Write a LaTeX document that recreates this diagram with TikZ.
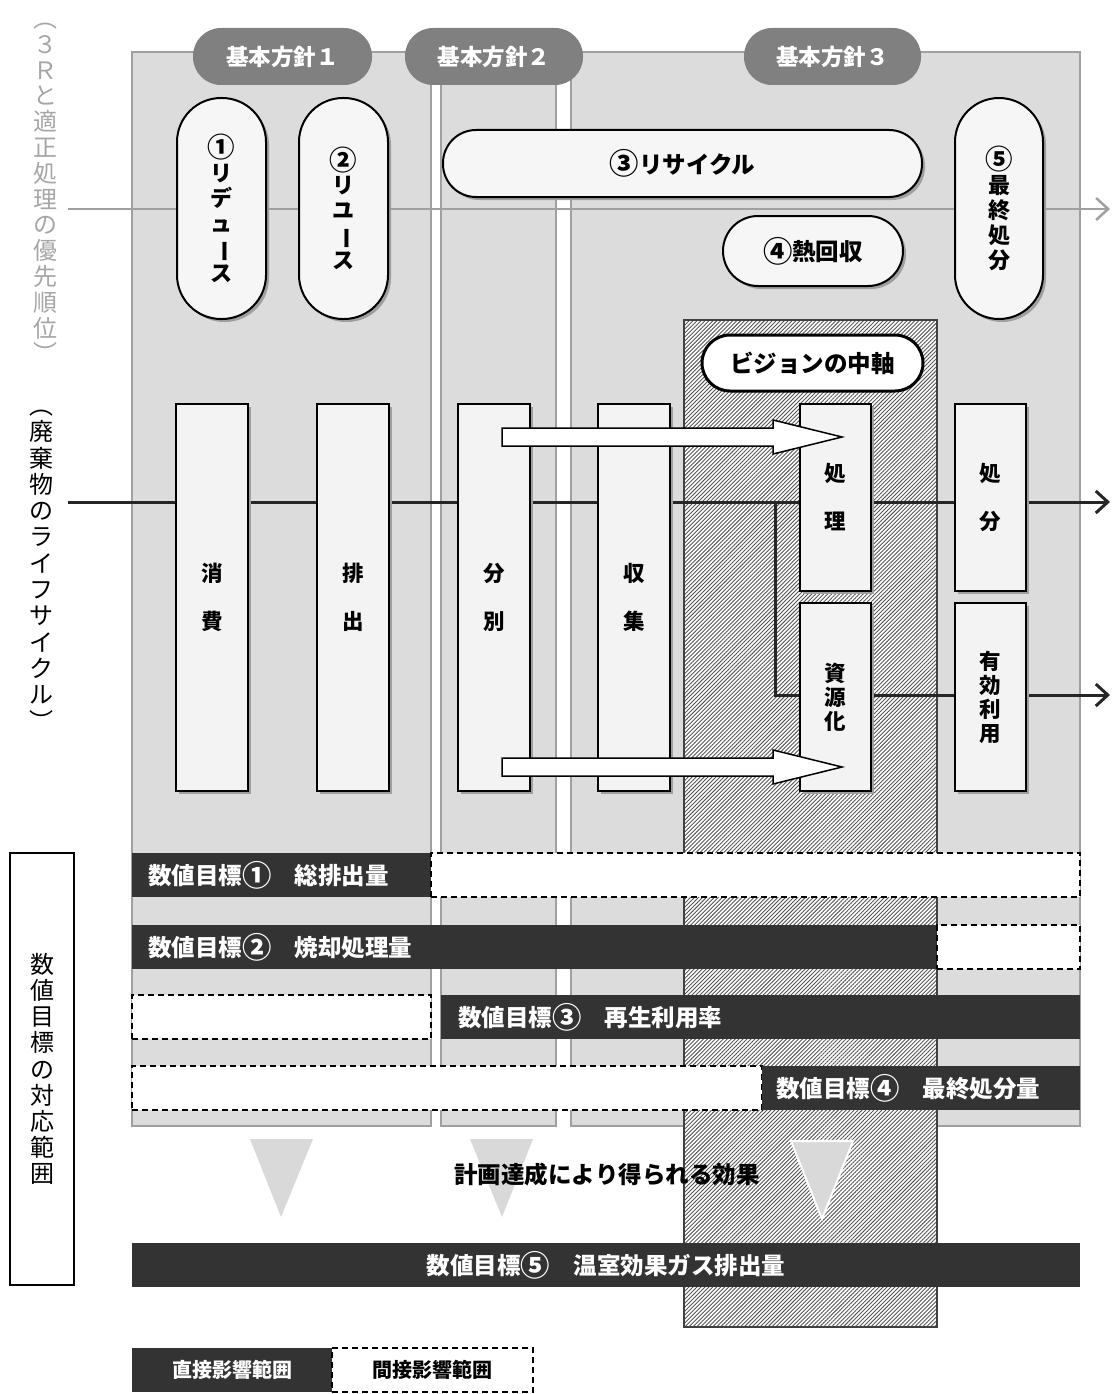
\documentclass[tikz,border=0pt]{standalone}
\usepackage{fontspec}
\usepackage{graphicx}
\setmainfont{Noto Sans CJK JP}
\usetikzlibrary{arrows.meta,patterns.meta,shadows,calc}

\definecolor{panelgray}{HTML}{DCDCDC}
\definecolor{panelline}{HTML}{A0A0A0}
\definecolor{pillgray}{HTML}{808080}
\definecolor{boxfill}{HTML}{F3F3F3}
\definecolor{capfill}{HTML}{F6F6F6}
\definecolor{barfill}{HTML}{333333}
\definecolor{trigray}{HTML}{D9D9D9}
\definecolor{labelgray}{HTML}{A6A6A6}
\definecolor{hatchline}{HTML}{555555}
\definecolor{hatchborder}{HTML}{404040}

% rectangle node from corners: [style]{name}{x1}{y1}{x2}{y2}{text}
\newcommand\rnode[7][]{%
  \node[#1, minimum width={(#5)-(#3)}, minimum height={(#6)-(#4)}]
    (#2) at ({((#3)+(#5))/2},{((#4)+(#6))/2}) {#7};}
\newcommand\vbar{\rotatebox[origin=c]{-90}{ー}}
\newcommand\cnum[1]{\raisebox{-0.07em}{\scalebox{1.25}{#1}}}

\begin{document}
\begin{tikzpicture}[x=1pt,y=-1pt,
  panel/.style={draw=panelline, fill=panelgray, line width=2pt, inner sep=0pt},
  hatchbox/.style={draw=hatchborder, line width=2.5pt, inner sep=0pt,
    preaction={fill=white},
    pattern={Lines[angle=45,distance=2.8pt,line width=0.9pt]}, pattern color=hatchline},
  pill/.style={fill=pillgray, text=white, inner sep=0pt,
    font={\bfseries\fontsize{22.5}{25}\selectfont}},
  capsule/.style={draw=black, line width=2pt, fill=capfill, inner sep=0pt, align=center,
    drop shadow={shadow xshift=3pt, shadow yshift=-3pt, fill=gray!75, opacity=1},
    font={\bfseries\fontsize{22}{25}\selectfont}},
  hcapsule/.style={capsule, font={\bfseries\fontsize{23.5}{26}\selectfont}},
  vision/.style={draw=black, line width=3pt, fill=white, inner sep=0pt,
    font={\bfseries\fontsize{23.5}{26}\selectfont}},
  procbox/.style={draw=black, line width=2pt, fill=boxfill, inner sep=0pt, align=center,
    drop shadow={shadow xshift=3pt, shadow yshift=-3pt, fill=gray!75, opacity=1},
    font={\bfseries\fontsize{21.5}{24}\selectfont}},
  darkbar/.style={fill=barfill, inner sep=0pt},
  dashbox/.style={draw=black, fill=white, line width=1.4pt, dash pattern=on 6pt off 4pt, inner sep=0pt},
  bartext/.style={text=white, inner sep=0pt, font={\bfseries\fontsize{23.5}{26}\selectfont}},
  legtext/.style={inner sep=0pt, font={\bfseries\fontsize{20}{22}\selectfont}},
  lifeline/.style={draw=black!85, line width=3pt, -{Straight Barb[length=12pt,width=22pt]}},
  prioline/.style={draw=panelline, line width=2.5pt, -{Straight Barb[length=12pt,width=22pt]}},
  blockarrow/.style={draw=black, line width=1.5pt, fill=white, line join=miter},
  vlabel/.style={inner sep=0pt, align=center, font={\fontsize{24}{26.3}\selectfont}},
  tri/.style={fill=trigray}
]
\useasboundingbox (0,0) rectangle (1116,1394);

% ---- panels ----
\rnode[panel]{p1}{132}{52}{431}{1126}{}
\rnode[panel]{p2}{441}{52}{556}{1126}{}
\rnode[panel]{p3}{571}{52}{1080}{1126}{}

% ---- hatched vision core ----
\rnode[hatchbox]{core}{684}{320}{937}{1327}{}

% ---- priority line ----
\coordinate (prL) at (68,209);
\coordinate (prR) at (1110,209);
\draw[prioline] (prL) -- (prR);

% ---- policy pills ----
\rnode[pill, rounded corners=28pt]{pol1}{193}{28}{372}{85}{基本方針１}
\rnode[pill, rounded corners=28pt]{pol2}{405}{28}{583}{85}{基本方針２}
\rnode[pill, rounded corners=28pt]{pol3}{744}{28}{921}{85}{基本方針３}

% ---- 3R capsules ----
\rnode[capsule, rounded corners=44pt]{reduce}{177}{98}{266}{319}{\cnum{①}\\リ\\デ\\ュ\\\vbar\\ス}
\rnode[capsule, rounded corners=44pt]{reuse}{299}{98}{388}{319}{\cnum{②}\\リ\\ユ\\\vbar\\ス}
\rnode[hcapsule, rounded corners=33pt]{recycle}{443}{130}{922}{197}{\cnum{③}リサイクル}
\rnode[hcapsule, rounded corners=35pt]{heat}{723}{216}{903}{286}{\cnum{④}熱回収}
\rnode[capsule, rounded corners=44pt]{final}{955}{98}{1043}{319}{\cnum{⑤}\\最\\終\\処\\分}

% ---- vision pill ----
\rnode[vision, rounded corners=28pt]{visionpill}{702}{335}{923}{391}{ビジョンの中軸}

% ---- lifecycle lines ----
\coordinate (lcL) at (68,502);
\coordinate (lcR) at (1110,502);
\coordinate (br) at (775,502);
\coordinate (euR) at (1110,695);
\draw[lifeline] (lcL) -- (lcR);
\draw[lifeline] (br) |- (euR);

% ---- process boxes ----
\rnode[procbox]{shouhi}{176}{404}{248}{791}{消\\[24pt]費}
\rnode[procbox]{haishutsu}{317}{404}{389}{791}{排\\[24pt]出}
\rnode[procbox]{bunbetsu}{458}{404}{530}{791}{分\\[24pt]別}
\rnode[procbox]{shuushuu}{598}{404}{670}{791}{収\\[24pt]集}
\rnode[procbox]{shori}{800}{404}{871}{591}{処\\[24pt]理}
\rnode[procbox]{shigenka}{800}{603}{871}{791}{資\\源\\化}
\rnode[procbox]{shobun}{955}{404}{1026}{591}{処\\[24pt]分}
\rnode[procbox]{yuukou}{955}{603}{1026}{791}{有\\効\\利\\用}

% ---- block arrows from 分別 ----
\coordinate (a1s) at (502,437);
\coordinate (a1t) at (842,437);
\coordinate (a2s) at (502,767);
\coordinate (a2t) at (842,767);
\draw[blockarrow] ($(a1s)+(0,-9)$) -- ($(a1t)+(-69,-9)$) -- ($(a1t)+(-69,-17)$) -- (a1t)
  -- ($(a1t)+(-69,17)$) -- ($(a1t)+(-69,9)$) -- ($(a1s)+(0,9)$) -- cycle;
\draw[blockarrow] ($(a2s)+(0,-9)$) -- ($(a2t)+(-69,-9)$) -- ($(a2t)+(-69,-17)$) -- (a2t)
  -- ($(a2t)+(-69,17)$) -- ($(a2t)+(-69,9)$) -- ($(a2s)+(0,9)$) -- cycle;

% ---- numeric target bars ----
\rnode[darkbar]{b1d}{132}{853}{431}{897}{}
\rnode[dashbox]{b1i}{431}{853}{1080}{897}{}
\node[bartext, anchor=west] (t1) at ([xshift=16pt]b1d.west) {数値目標\cnum{①}　総排出量};

\rnode[darkbar]{b2d}{132}{925}{937}{969}{}
\rnode[dashbox]{b2i}{937}{925}{1080}{969}{}
\node[bartext, anchor=west] (t2) at ([xshift=16pt]b2d.west) {数値目標\cnum{②}　焼却処理量};

\rnode[dashbox]{b3i}{132}{995}{431}{1039}{}
\rnode[darkbar]{b3d}{441}{995}{1080}{1039}{}
\node[bartext, anchor=west] (t3) at ([xshift=17pt]b3d.west) {数値目標\cnum{③}　再生利用率};

\rnode[dashbox]{b4i}{132}{1066}{762}{1110}{}
\rnode[darkbar]{b4d}{762}{1066}{1080}{1110}{}
\node[bartext, anchor=west] (t4) at ([xshift=14pt]b4d.west) {数値目標\cnum{④}　最終処分量};

% ---- effect triangles ----
\fill[tri] (250,1139) -- (313,1139) -- (281,1217) -- cycle;
\fill[tri] (470,1139) -- (533,1139) -- (502,1217) -- cycle;
\filldraw[tri, draw=white, line width=2pt] (791,1141) -- (853,1141) -- (822,1219) -- cycle;
\node[inner sep=0pt, font={\bfseries\fontsize{23.5}{26}\selectfont}] (effect) at (607,1175) {計画達成により得られる効果};

\rnode[darkbar]{b5}{132}{1243}{1080}{1287}{}
\node[bartext] (t5) at (b5.center) {数値目標\cnum{⑤}　温室効果ガス排出量};

% ---- side labels ----
\node[vlabel, text=labelgray, font={\fontsize{24}{25.8}\selectfont}] (prio) at (45,193) {︵\\３\\Ｒ\\と\\適\\正\\処\\理\\の\\優\\先\\順\\位\\︶};
\node[vlabel] (life) at (41,570) {︵\\廃\\棄\\物\\の\\ラ\\イ\\フ\\サ\\イ\\ク\\ル\\︶};
\rnode[draw=black, line width=1.5pt, inner sep=0pt, align=center, font={\fontsize{24}{26.2}\selectfont}]{scope}{10}{853}{74}{1285}{数\\値\\目\\標\\の\\対\\応\\範\\囲}

% ---- legend ----
\rnode[darkbar]{legd}{132}{1348}{332}{1392}{}
\node[legtext, text=white] (legdt) at (legd.center) {直接影響範囲};
\rnode[dashbox]{legi}{332}{1348}{533}{1392}{}
\node[legtext] (legit) at (legi.center) {間接影響範囲};
\end{tikzpicture}
\end{document}
